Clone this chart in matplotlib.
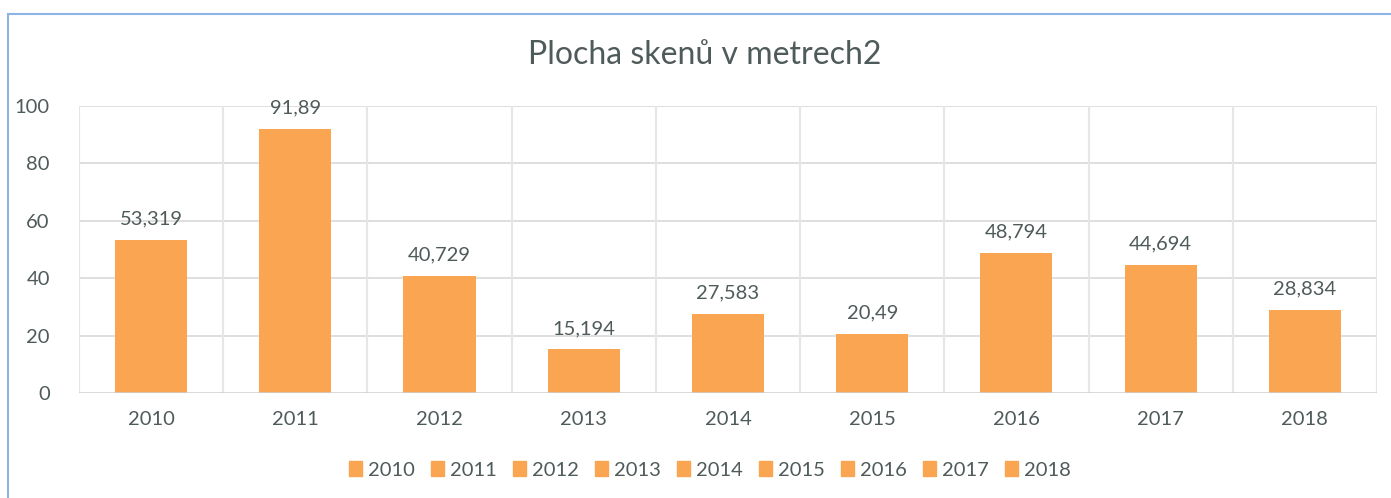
import matplotlib
matplotlib.use("Agg")
import matplotlib.pyplot as plt
from matplotlib.patches import Rectangle, Patch

# -------------------
# DATA
# -------------------
years = ["2010", "2011", "2012", "2013", "2014", "2015", "2016", "2017", "2018"]
values = [53.319, 91.89, 40.729, 15.194, 27.583, 20.49, 48.794, 44.694, 28.834]
labels = ["53,319", "91,89", "40,729", "15,194", "27,583", "20,49", "48,794", "44,694", "28,834"]

bar_color = "#F9A551"
text_color = "#4F5A5A"
grid_color = "#D9D9D9"

plt.rcParams["font.family"] = ["Lato", "DejaVu Sans"]

fig = plt.figure(figsize=(13.91, 4.98), dpi=100)
ax = fig.add_axes([79 / 1391, 1 - 393 / 498, (1377 - 79) / 1391, (393 - 106) / 498])

x = list(range(len(years)))
ax.bar(x, values, width=0.5, color=bar_color, zorder=3)

for xi, v, lab in zip(x, values, labels):
    ax.annotate(lab, (xi, v), xytext=(0, 9), textcoords="offset points",
                ha="center", va="bottom", fontsize=14.5, color=text_color)

ax.set_xlim(-0.5, len(years) - 0.5)
ax.set_ylim(0, 100)
ax.set_yticks(range(0, 101, 20))
ax.set_xticks(x)
ax.set_xticklabels(years)
ax.tick_params(length=0, labelsize=14.5, labelcolor=text_color)
ax.tick_params(axis="x", pad=13)
ax.tick_params(axis="y", pad=21)

# horizontal and vertical grid lines like Excel
for yv in range(20, 101, 20):
    ax.axhline(yv, color=grid_color, lw=1.2, zorder=1)
for b in range(len(years) + 1):
    ax.axvline(b - 0.5, color="#E6E6E6", lw=1.5, zorder=1)
ax.axhline(0, color="#CFCFCF", lw=1.8, zorder=4)

for s in ax.spines.values():
    s.set_visible(False)

fig.text(705 / 1391, 1 - 55 / 498, "Plocha skenů v metrech2", ha="center", va="center",
         fontsize=23, color=text_color)

handles = [Patch(color=bar_color, label=y) for y in years]
fig.legend(handles=handles, loc="center", bbox_to_anchor=(710 / 1391, 1 - 470 / 498),
           ncol=len(years), frameon=False, fontsize=14.5, handlelength=0.65, handleheight=0.75,
           handletextpad=0.3, columnspacing=0.8, labelcolor=text_color)

# chart border (cut off on right and bottom)
fig.patches.append(Rectangle((8 / 1391, -0.2), 1.2, 1.2 - 14 / 498,
                             transform=fig.transFigure, fill=False,
                             edgecolor="#8EB4E3", lw=1.5))

fig.savefig("out.png", dpi=100)
